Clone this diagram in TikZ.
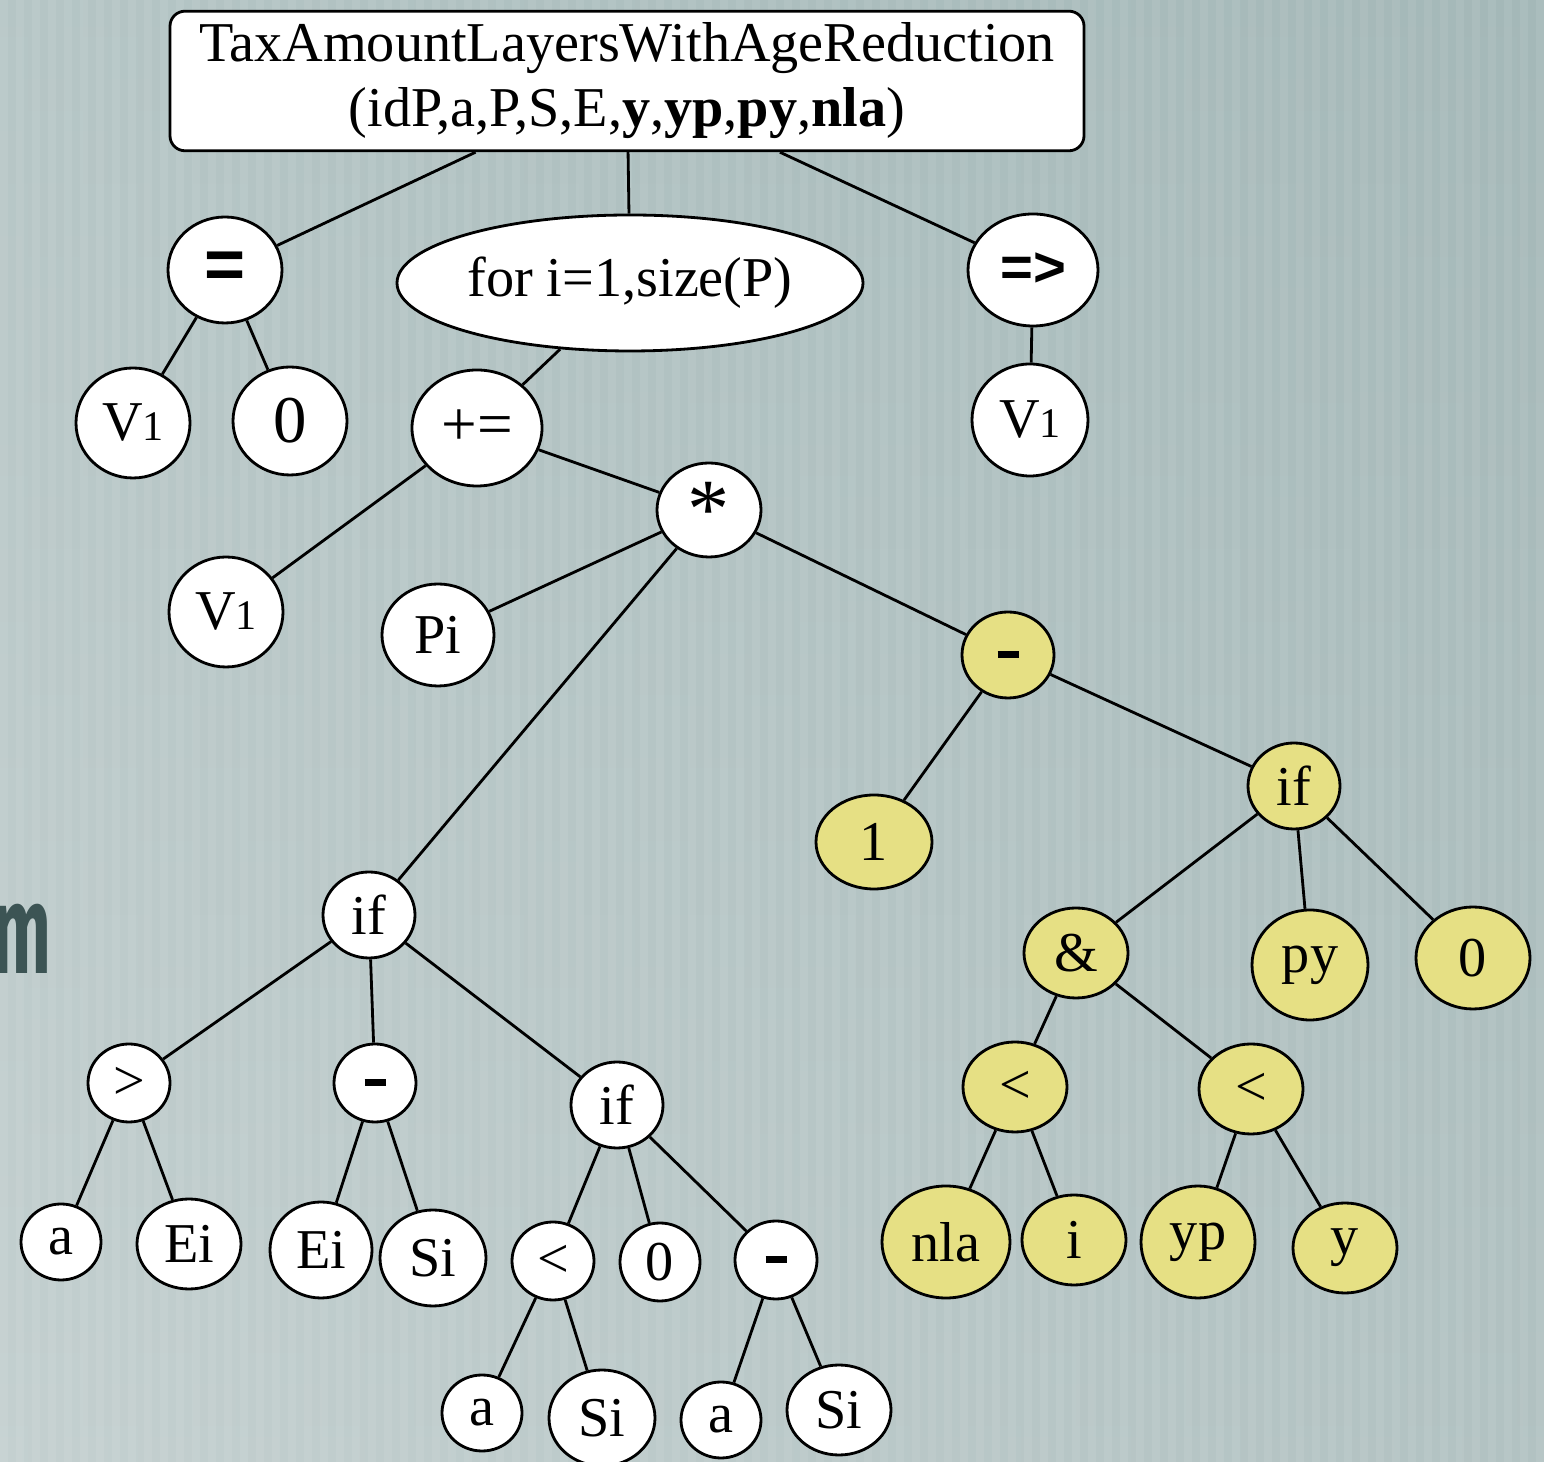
\documentclass[tikz,border=0pt]{standalone}
\usepackage{fontspec}
\setmainfont{Liberation Serif}
\setsansfont{Liberation Sans}
\newfontfamily\mfont{Fira Sans}
\usepackage{tikz}
\usetikzlibrary{shapes.geometric}

\definecolor{bgL}{RGB}{196,208,208}
\definecolor{bgR}{RGB}{160,180,180}
\definecolor{bgTop}{RGB}{168,188,188}
\definecolor{yel}{RGB}{230,224,132}
\definecolor{mDark}{RGB}{60,84,84}

\tikzset{
  base/.style={ellipse, draw, line width=0.8pt, inner sep=0pt, font=\fontsize{16}{18}\selectfont},
  wn/.style 2 args={base, fill=white, minimum width=#1cm, minimum height=#2cm},
  yn/.style 2 args={base, fill=yel, minimum width=#1cm, minimum height=#2cm},
  edge/.style={line width=0.8pt},
}
\newcommand{\vone}{V{\fontsize{12}{12}\selectfont 1}}
\newcommand{\minusbar}{\rule{0.21cm}{0.07cm}}

\begin{document}
\begin{tikzpicture}

\useasboundingbox (0,0) rectangle (15.44,-14.62);
\clip (0,0) rectangle (15.44,-14.62);

% background
\shade[left color=bgL, right color=bgR] (0,0) rectangle (15.44,-14.62);
\shade[top color=bgTop, bottom color=bgL, opacity=0.5] (0,0) rectangle (15.44,-14.62);
\foreach \x in {0,0.16,...,15.4}
\fill[white, opacity=0.07] (\x,0) rectangle ++(0.08,-14.62);

\node[font=\mfont\bfseries\fontsize{36}{36}\selectfont, text=mDark, anchor=base east, inner sep=0pt] (m) at (0.52,-9.74) {\scalebox{0.55}[1]{m}};

% tree
\node[draw, fill=white, line width=0.8pt, rounded corners=0.15cm, minimum width=9.14cm, minimum height=1.38cm, align=center, font=\fontsize{16}{18.5}\selectfont] (root) at (6.27,-0.81)
{TaxAmountLayersWithAgeReduction\\(idP,a,P,S,E,\textbf{y},\textbf{yp},\textbf{py},\textbf{nla})};

\node[wn={1.14}{1.06}, font=\sffamily\bfseries\fontsize{20}{20}\selectfont] (eq) at (2.25,-2.70) {=};
\node[wn={4.66}{1.36}] (for) at (6.30,-2.83) {for i=1,size(P)};
\node[wn={1.30}{1.12}, font=\sffamily\bfseries\fontsize{16}{16}\selectfont] (impl) at (10.33,-2.70) {=>};

\node[wn={1.14}{1.10}] (vA) at (1.33,-4.23) {\vone};
\node[wn={1.14}{1.08}, font=\fontsize{19}{20}\selectfont] (zA) at (2.90,-4.21) {0};
\node[wn={1.30}{1.16}, font=\fontsize{18}{18}\selectfont] (pe) at (4.77,-4.28) {+=};
\node[wn={1.16}{1.12}] (vB) at (10.30,-4.20) {\vone};

\node[wn={1.14}{1.10}] (vC) at (2.26,-6.12) {\vone};
\node[wn={1.04}{0.94}, font=\fontsize{24}{24}\selectfont] (star) at (7.09,-5.10) {*};
\node[wn={1.12}{1.02}] (pi) at (4.38,-6.35) {Pi};

\node[yn={0.92}{0.86}] (mY) at (10.08,-6.55) {\minusbar};
\node[yn={1.16}{0.94}] (oneY) at (8.74,-8.42) {1};
\node[yn={0.92}{0.86}] (ifY) at (12.94,-7.86) {if};
\node[yn={1.04}{0.90}] (amp) at (10.76,-9.53) {\&};
\node[yn={1.16}{1.10}] (py) at (13.10,-9.65) {py};
\node[yn={1.14}{1.02}] (zY) at (14.73,-9.58) {0};
\node[yn={1.04}{0.90}] (ltA) at (10.15,-10.87) {<};
\node[yn={1.04}{0.90}] (ltB) at (12.51,-10.89) {<};
\node[yn={1.28}{1.12}] (nla) at (9.46,-12.42) {nla};
\node[yn={1.04}{0.90}] (iY) at (10.74,-12.40) {i};
\node[yn={1.14}{1.12}] (yp) at (11.98,-12.42) {yp};
\node[yn={1.04}{0.90}] (yY) at (13.45,-12.48) {y};

\node[wn={0.92}{0.86}] (ifA) at (3.69,-9.15) {if};
\node[wn={0.82}{0.78}] (gt) at (1.29,-10.83) {>};
\node[wn={0.82}{0.78}] (mW) at (3.75,-10.83) {\minusbar};
\node[wn={0.92}{0.86}] (ifB) at (6.17,-11.05) {if};
\node[wn={0.80}{0.76}] (aA) at (0.61,-12.42) {a};
\node[wn={1.04}{0.90}] (eiA) at (1.89,-12.44) {Ei};
\node[wn={1.02}{0.96}] (eiB) at (3.21,-12.50) {Ei};
\node[wn={1.06}{0.96}] (siA) at (4.33,-12.58) {Si};
\node[wn={0.82}{0.78}] (ltW) at (5.53,-12.61) {<};
\node[wn={0.80}{0.78}] (zW) at (6.60,-12.62) {0};
\node[wn={0.82}{0.78}] (mW2) at (7.76,-12.60) {\minusbar};
\node[wn={0.80}{0.76}] (aB) at (4.82,-14.13) {a};
\node[wn={1.06}{0.96}] (siB) at (6.02,-14.18) {Si};
\node[wn={0.80}{0.76}] (aC) at (7.21,-14.20) {a};
\node[wn={1.04}{0.90}] (siC) at (8.39,-14.10) {Si};

\foreach \a/\b in {root/eq, root/for, root/impl, eq/vA, eq/zA, for/pe, impl/vB,
  pe/vC, pe/star, star/pi, star/ifA, star/mY, mY/oneY, mY/ifY,
  ifY/amp, ifY/py, ifY/zY, amp/ltA, amp/ltB, ltA/nla, ltA/iY, ltB/yp, ltB/yY,
  ifA/gt, ifA/mW, ifA/ifB, gt/aA, gt/eiA, mW/eiB, mW/siA,
  ifB/ltW, ifB/zW, ifB/mW2, ltW/aB, ltW/siB, mW2/aC, mW2/siC}
\draw[edge] (\a) -- (\b);

\end{tikzpicture}
\end{document}
